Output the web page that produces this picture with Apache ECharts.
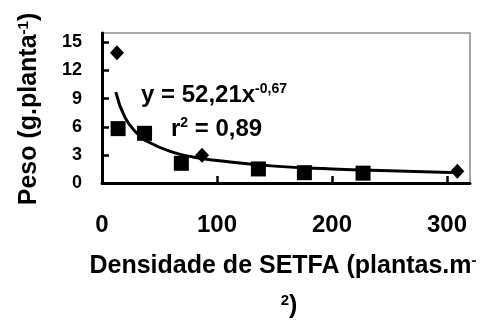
<!DOCTYPE html>
<html>
<head>
<meta charset="utf-8">
<script src="https://cdn.jsdelivr.net/npm/echarts@6/dist/echarts.min.js"></script>
<style>
html,body{margin:0;padding:0;background:#fff;}
#c{width:483px;height:324px;}
</style>
</head>
<body>
<div id="c"></div>
<script>
// Observed points (diamonds)
var diamondX = [13, 87, 309];
var diamondY = [13.9, 2.95, 1.25];
// Observed points (squares)
var squareX = [14, 37, 69, 136, 176, 227];
var squareY = [5.8, 5.3, 2.1, 1.5, 1.1, 1.05];
// Fitted curve
var curveX = [12, 20, 30, 40, 60, 80, 100, 150, 200, 250, 310];
var curveY = [9.7, 7.0, 5.35, 4.4, 3.35, 2.75, 2.4, 1.8, 1.5, 1.3, 1.1];
// Tick labels
var xTicks = [0, 100, 200, 300];
var yTicks = [0, 3, 6, 9, 12, 15];

function pairs(xs, ys){ return xs.map(function(x,i){ return [x, ys[i]]; }); }

var FONT = '"Liberation Sans", Arial, sans-serif';
function richStyles(main, sup, raise){
  return {
    m: {fontSize: main, fontWeight: 'bold', fontFamily: FONT, fill: '#000', lineHeight: 30, verticalAlign: 'bottom'},
    s: {fontSize: sup, fontWeight: 'bold', fontFamily: FONT, fill: '#000', lineHeight: 30, verticalAlign: 'bottom', padding: [0, 0, raise, 0]}
  };
}
var chart = echarts.init(document.getElementById('c'));
chart.setOption({
  animation: false,
  backgroundColor: '#fff',
  grid: {left: 102, right: 13, top: 33, bottom: 141, show: true, borderColor: '#8c8c8c', borderWidth: 1.5, backgroundColor: 'transparent'},
  xAxis: {
    type: 'value', min: 0, max: 320, interval: 100,
    axisLine: {show: true, onZero: false, lineStyle: {color: '#000', width: 3}},
    axisTick: {show: true, inside: true, length: 7, lineStyle: {color: '#000', width: 2.5}, customValues: xTicks},
    axisLabel: {customValues: xTicks, color: '#000', fontSize: 24, fontWeight: 'bold', fontFamily: FONT, margin: 30},
    splitLine: {show: false}
  },
  yAxis: {
    type: 'value', min: 0, max: 16, interval: 3,
    axisLine: {show: true, onZero: false, lineStyle: {color: '#000', width: 3}},
    axisTick: {show: true, inside: true, length: 7, lineStyle: {color: '#000', width: 2.5}, customValues: yTicks},
    axisLabel: {customValues: yTicks, color: '#000', fontSize: 18, fontWeight: 'bold', fontFamily: FONT, margin: 20},
    splitLine: {show: false}
  },
  series: [
    {type: 'line', data: pairs(curveX, curveY), smooth: true, showSymbol: false, symbol: 'none',
     lineStyle: {color: '#000', width: 3}, z: 2},
    {type: 'scatter', data: pairs(squareX, squareY), symbol: 'rect', symbolSize: 15,
     itemStyle: {color: '#000', opacity: 1}, z: 3},
    {type: 'scatter', data: pairs(diamondX, diamondY), symbol: 'diamond', symbolSize: [14, 15],
     itemStyle: {color: '#000', opacity: 1}, z: 3}
  ],
  graphic: [
    {type: 'text', x: 141, y: 77, z: 10, style: {
      text: '{m|y = 52,21x}{s|-0,67}', fontFamily: FONT, rich: richStyles(24, 14, 11)
    }},
    {type: 'text', x: 171, y: 111, z: 10, style: {
      text: '{m|r}{s|2}{m| = 0,89}', fontFamily: FONT, rich: richStyles(24, 14, 11)
    }},
    {type: 'text', x: 27, y: 109, rotation: Math.PI / 2, z: 10, style: {
      text: '{m|Peso (g.planta}{s|-1}{m|)}', align: 'center', verticalAlign: 'middle', fontFamily: FONT,
      rich: richStyles(25, 15, 11)
    }},
    {type: 'text', x: 283, y: 264, z: 10, style: {
      text: '{m|Densidade de SETFA (plantas.m}{s|-}', align: 'center', verticalAlign: 'middle', fontFamily: FONT,
      rich: richStyles(25, 15, 11)
    }},
    {type: 'text', x: 289, y: 304, z: 10, style: {
      text: '{s|2}{m|)}', align: 'center', verticalAlign: 'middle', fontFamily: FONT,
      rich: richStyles(25, 15, 11)
    }}
  ]
});
</script>
</body>
</html>
